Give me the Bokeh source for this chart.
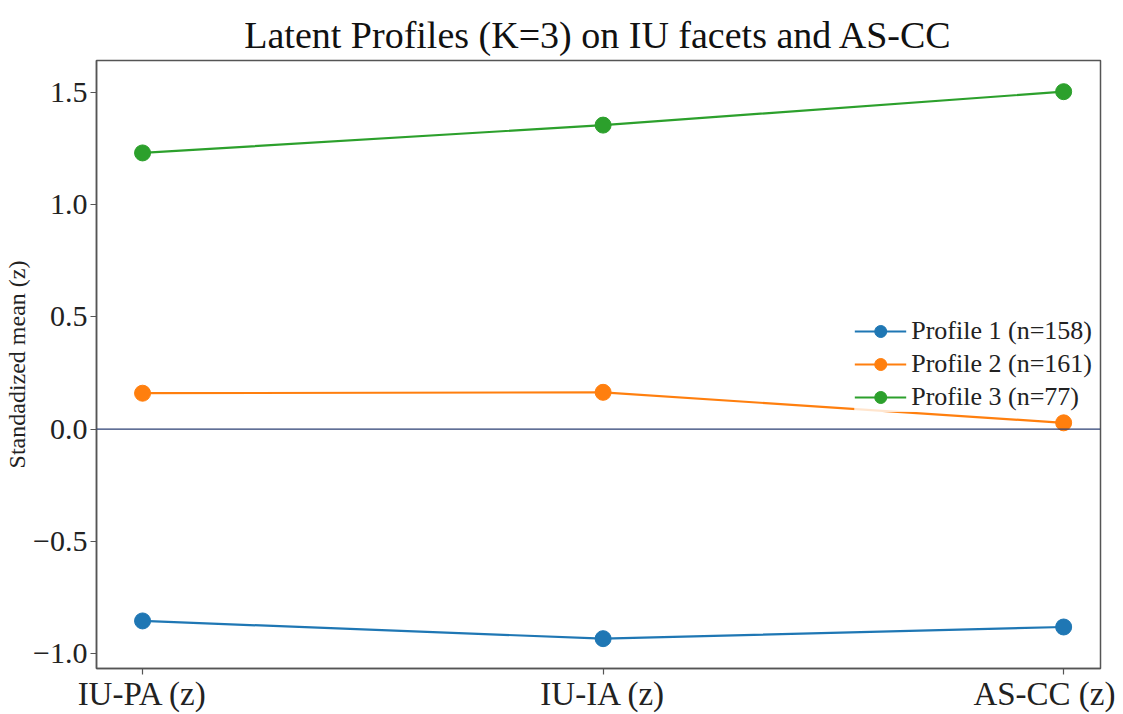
from bokeh.plotting import figure
from bokeh.models import Range1d, Span, SingleIntervalTicker, FixedTicker, Legend, PrintfTickFormatter
from bokeh.embed import file_html
from bokeh.resources import INLINE

categories = ["IU-PA (z)", "IU-IA (z)", "AS-CC (z)"]
profile1 = [-0.855, -0.934, -0.882]
profile2 = [0.160, 0.164, 0.028]
profile3 = [1.231, 1.355, 1.504]
labels = ["Profile 1 (n=158)", "Profile 2 (n=161)", "Profile 3 (n=77)"]
colors = ["#1f77b4", "#ff7f0e", "#2ca02c"]

FONT = "Liberation Serif"
xs = list(range(len(categories)))

p = figure(width=1115, height=714, output_backend="svg", toolbar_location=None,
           x_range=Range1d(-0.1, 2.08),
           y_range=Range1d(-1.067, 1.643),
           min_border_left=96, min_border_right=15, min_border_top=60, min_border_bottom=40)

p.title.text = "Latent Profiles (K=3) on IU facets and AS-CC"
p.title.align = "center"
p.title.text_font = FONT
p.title.text_font_size = "38px"
p.title.text_font_style = "normal"
p.title.text_color = "#111111"

p.add_layout(Span(location=0, dimension="width", line_color="#2b3f73", line_width=1.3))

items = []
for vals, lab, col in zip([profile1, profile2, profile3], labels, colors):
    r1 = p.line(xs, vals, line_color=col, line_width=2.2)
    r2 = p.scatter(xs, vals, size=16, fill_color=col, line_color=col)
    items.append((lab, [r1, r2]))

legend = Legend(items=items, location="center_right")
legend.label_text_font = FONT
legend.label_text_font_size = "26px"
legend.label_text_color = "#222222"
legend.border_line_color = None
legend.background_fill_alpha = 0.8
legend.glyph_width = 52
legend.glyph_height = 30
legend.spacing = 3
legend.padding = 2
legend.margin = 8
legend.label_standoff = 5
p.add_layout(legend)

p.xgrid.grid_line_color = None
p.ygrid.grid_line_color = None
p.outline_line_color = "#555555"
p.outline_line_width = 1.5

p.xaxis.ticker = FixedTicker(ticks=xs)
p.xaxis.major_label_overrides = {i: c for i, c in zip(xs, categories)}
p.yaxis.ticker = SingleIntervalTicker(interval=0.5)
p.yaxis.formatter = PrintfTickFormatter(format="%.1f")
p.yaxis.axis_label = "Standadized mean (z)"
for ax in [p.xaxis[0], p.yaxis[0]]:
    ax.axis_line_color = "#555555"
    ax.axis_line_width = 1.5
    ax.major_tick_line_color = "#555555"
    ax.major_tick_line_width = 1.2
    ax.major_tick_out = 6
    ax.major_tick_in = 0
    ax.minor_tick_line_color = None
    ax.major_label_text_font = FONT
    ax.major_label_text_color = "#222222"
    ax.axis_label_text_font = FONT
    ax.axis_label_text_font_size = "24px"
    ax.axis_label_text_font_style = "normal"
    ax.axis_label_text_color = "#222222"
p.xaxis.major_label_text_font_size = "33px"
p.yaxis.major_label_text_font_size = "30px"
p.yaxis.major_label_overrides = {-1.0: "\u22121.0", -0.5: "\u22120.5"}
p.yaxis.axis_label_standoff = 0
p.yaxis.major_label_standoff = 3
p.xaxis.major_label_standoff = 1

open("out.html", "w").write(file_html(p, INLINE))
